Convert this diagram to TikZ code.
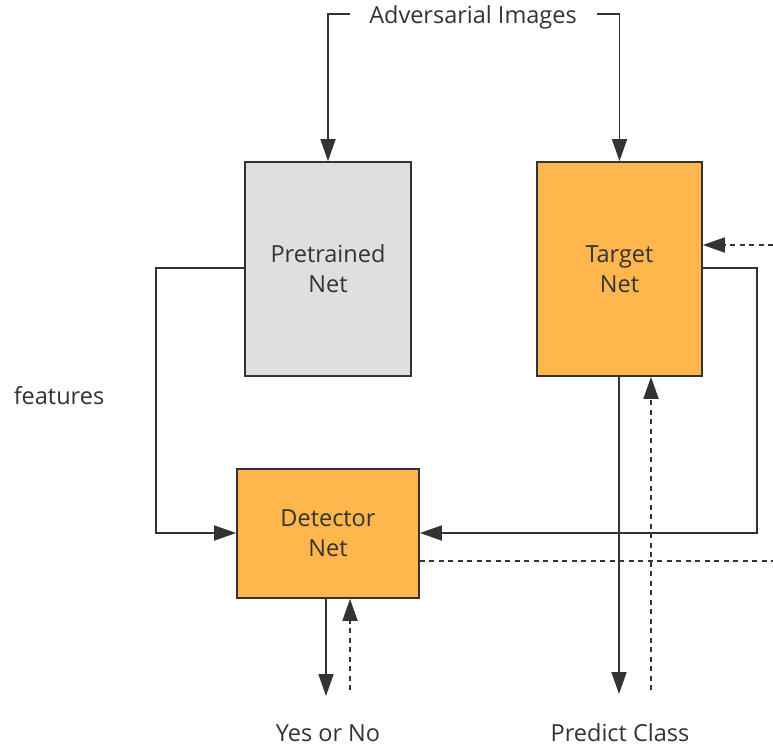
\documentclass[tikz,border=0pt]{standalone}
\usepackage{fontspec}
\setmainfont{Open Sans}
\usetikzlibrary{arrows.meta}
\definecolor{ink}{HTML}{333333}
\definecolor{grayfill}{HTML}{DFDFDF}
\definecolor{orangefill}{HTML}{FFB64D}
% two-line box caption, set a little below the optical centre
\newcommand{\boxcaption}[2]{\raisebox{-2pt}[\height][\depth]{\begin{tabular}{@{}c@{}}#1\\#2\end{tabular}}}
\begin{document}
\begin{tikzpicture}[x=1pt,y=-1pt,
  box/.style={draw=ink,line width=1.8pt,inner sep=0pt,text=ink,font=\fontsize{23.5}{30}\selectfont},
  lbl/.style={text=ink,inner sep=0pt,font=\fontsize{23.5}{28}\selectfont},
  wire/.style={draw=ink,line width=1.8pt},
  tip/.style={-{Triangle[length=22pt,width=15pt]}},
  dwire/.style={draw=ink,line width=1.8pt,dash pattern=on 5pt off 4.5pt}]
\useasboundingbox (0,0) rectangle (773,746);
% boxes
\node[box,fill=grayfill,minimum width=166pt,minimum height=214pt] (pre) at (328,269) {\boxcaption{Pretrained}{Net}};
\node[box,fill=orangefill,minimum width=165pt,minimum height=214pt] (tgt) at (619.5,269) {\boxcaption{Target}{Net}};
\node[box,fill=orangefill,minimum width=182pt,minimum height=129pt] (det) at (328,533.5) {\boxcaption{Detector}{Net}};
% labels
\node[lbl] (adv) at (473,17) {Adversarial Images};
\node[lbl] (feat) at (59,396) {features};
\node[lbl] (yn) at (328,733) {Yes or No};
\node[lbl] (pc) at (620,733) {Predict Class};
% free ends
\coordinate (advL) at (350,14);
\coordinate (advR) at (597,14);
\coordinate (inR) at (773,245);
\coordinate (outR) at (773,561);
\coordinate (tgtOut) at (619,694);
\coordinate (tgtFb) at (651,690);
\coordinate (detOut) at (326,696);
\coordinate (detFb) at (350,690);
% input from the adversarial images
\draw[wire,tip] (advL) -- (328,14) -- (pre.north);
\draw[wire,tip] (advR) -- (619.5,14) -- (tgt.north);
% features into the detector
\draw[wire,tip] (pre.west |- 0,268) -- (156,268) -- (156,533) -- (det.west |- 0,533);
\draw[wire,tip] (tgt.east |- 0,268) -- (757,268) -- (757,533) -- (det.east |- 0,533);
% outputs
\draw[wire,tip] (tgt.south -| tgtOut) -- (tgtOut);
\draw[wire,tip] (det.south -| detOut) -- (detOut);
% gradient feedback
\draw[dwire,tip] (inR) -- (tgt.east |- inR);
\draw[dwire,tip] (tgtFb) -- (tgt.south -| tgtFb);
\draw[dwire,tip] (detFb) -- (det.south -| detFb);
\draw[dwire] (det.east |- outR) -- (outR);
\end{tikzpicture}
\end{document}
